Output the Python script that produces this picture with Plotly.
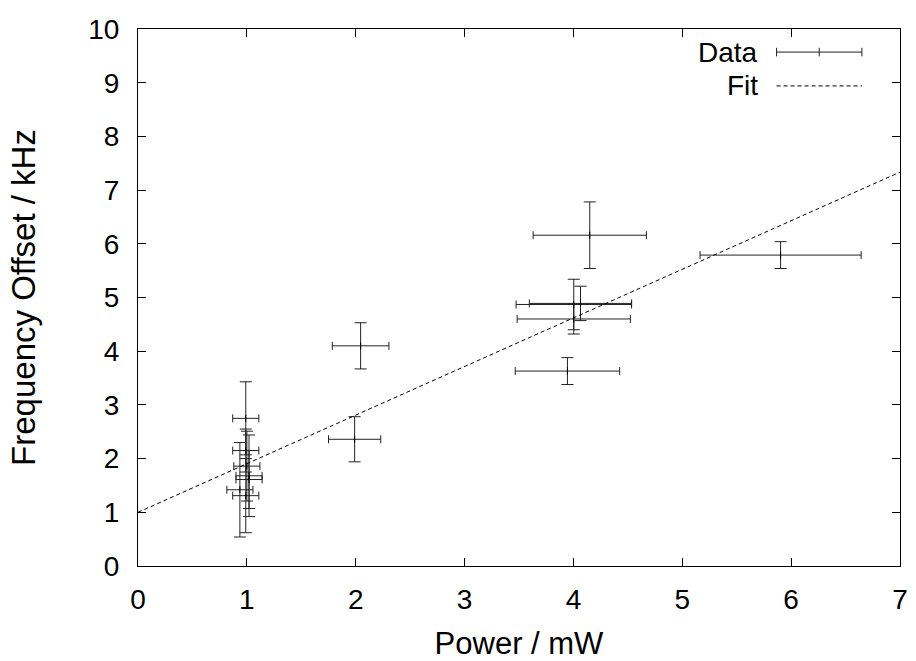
import plotly.graph_objects as go

# Measured laser power (mW) and resulting frequency offset (kHz), with uncertainties
power = [0.99, 0.99, 1.00, 1.02, 1.02, 0.936, 0.99, 2.045, 1.99,
         4.15, 4.003, 4.065, 4.003, 3.945, 5.903]
power_err = [0.12, 0.12, 0.12, 0.12, 0.12, 0.12, 0.12, 0.26, 0.24,
             0.52, 0.53, 0.47, 0.52, 0.48, 0.74]
offset = [2.75, 2.15, 1.86, 1.68, 1.61, 1.42, 1.31, 4.10, 2.36,
          6.16, 4.87, 4.89, 4.60, 3.63, 5.79]
offset_err = [0.68, 0.40, 0.65, 0.76, 0.54, 0.88, 0.69, 0.43, 0.42,
              0.62, 0.47, 0.32, 0.28, 0.25, 0.25]

# Linear fit: offset = fit_intercept + fit_slope * power
fit_intercept = 1.0
fit_slope = 0.905
fit_x = [0.0, 7.0]
fit_y = [fit_intercept + fit_slope * p for p in fit_x]

x_ticks = [0, 1, 2, 3, 4, 5, 6, 7]
y_ticks = [0, 1, 2, 3, 4, 5, 6, 7, 8, 9, 10]

FONT = "Liberation Sans, Arial, Helvetica, sans-serif"
TICK_FS = 28
LABEL_FS = 31
KEY_FS = 28

fig = go.Figure()

fig.add_trace(go.Scatter(
    x=power, y=offset, mode="markers", name="Data",
    marker=dict(symbol="line-ns", size=5, color="black",
                line=dict(width=1, color="black")),
    error_x=dict(type="data", array=power_err, color="#222222",
                 thickness=1, width=4),
    error_y=dict(type="data", array=offset_err, color="#222222",
                 thickness=1, width=6),
    showlegend=False,
))

fig.add_trace(go.Scatter(
    x=fit_x, y=fit_y, mode="lines", name="Fit",
    line=dict(color="black", width=1, dash="4px,3px"),
    showlegend=False,
))

# Key in the upper-right corner: label text to the left of each sample
legend_items = [("Data", 0.957), ("Fit", 0.894)]
for label, yp in legend_items:
    fig.add_annotation(xref="paper", yref="paper", x=0.815, y=yp,
                       text=label, showarrow=False, xanchor="right",
                       yanchor="middle", borderpad=0,
                       font=dict(family=FONT, size=KEY_FS, color="black"))

x0, x1 = 0.838, 0.950
yd = legend_items[0][1]
yf = legend_items[1][1]
fig.add_shape(type="line", xref="paper", yref="paper", x0=x0, x1=x1,
              y0=yd, y1=yd, line=dict(color="#222222", width=1))
for xc in (x0, x1, (x0 + x1) / 2):
    fig.add_shape(type="line", xref="paper", yref="paper", x0=xc, x1=xc,
                  y0=yd - 0.008, y1=yd + 0.008,
                  line=dict(color="#222222", width=1))
fig.add_shape(type="line", xref="paper", yref="paper", x0=x0, x1=x1,
              y0=yf, y1=yf, line=dict(color="black", width=1, dash="4px,3px"))

axis_common = dict(
    showline=True, linecolor="black", linewidth=1, mirror="allticks",
    ticks="inside", ticklen=8, tickcolor="black", tickwidth=1,
    showgrid=False, zeroline=False, automargin=False,
    tickfont=dict(family=FONT, size=TICK_FS, color="black"),
)

fig.update_layout(
    width=916, height=661,
    margin=dict(l=138, r=16, t=29, b=95),
    paper_bgcolor="white", plot_bgcolor="white",
    font=dict(family=FONT, size=TICK_FS, color="black"),
    xaxis=dict(range=[0, 7], tickvals=x_ticks, ticklabelstandoff=8,
               title=dict(text="Power / mW", standoff=19,
                          font=dict(family=FONT, size=LABEL_FS)),
               **axis_common),
    yaxis=dict(range=[0, 10], tickvals=y_ticks, ticklabelstandoff=12,
               title=dict(text="Frequency Offset / kHz", standoff=42,
                          font=dict(family=FONT, size=33)),
               **axis_common),
)

fig.write_html("out.html")
